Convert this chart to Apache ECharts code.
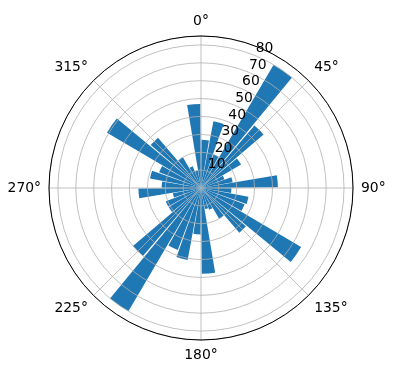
<!DOCTYPE html>
<html><head><meta charset="utf-8">
<script src="https://cdn.jsdelivr.net/npm/echarts@6/dist/echarts.min.js"></script>
<style>html,body{margin:0;padding:0;background:#fff}#c{width:396px;height:380px}</style>
</head><body><div id="c"></div>
<script>
// bin centres (degrees, clockwise from north)
const binCenters = [5,15,25,35,45,55,65,75,85,95,105,115,125,135,145,155,165,175,
                    185,195,205,215,225,235,245,255,265,275,285,295,305,315,325,335,345,355];
// bar heights
const counts = [27,38,20,80,46,26,14,18,43,17,27,26,65,33,20,13,12,48,
                26,41,37,80,50,21,21,16,35,22,29,25,61,37,20,13,10,47];
const angleTicks = [0,45,90,135,180,225,270,315];
const radiusTicks = [10,20,30,40,50,60,70,80];
const rMax = 85;

const FONT = 'DejaVu Sans';
const C = ['201', '188'];
const R = 152;
const chart = echarts.init(document.getElementById('c'), null, {renderer: 'canvas'});
chart.setOption({
  animation: false,
  polar: [
    {center: C, radius: R},
    {center: C, radius: R},
    {center: C, radius: R}
  ],
  angleAxis: [
    { polarIndex: 0, type: 'value', min: 0, max: 360, interval: 45, startAngle: 90, clockwise: true, z: 5,
      axisLine: {show: true, lineStyle: {color: '#000', width: 1}},
      axisTick: {show: false},
      splitLine: {show: true, lineStyle: {color: '#b0b0b0', width: 0.8}},
      axisLabel: {show: true, margin: 8, align: 'center', verticalAlign: 'middle',
        color: '#000', fontFamily: FONT, fontSize: 13.9,
        formatter: v => angleTicks.indexOf(v) >= 0 ? v + '°' : ''}
    },
    { polarIndex: 1, type: 'category', data: binCenters, startAngle: 90, clockwise: true, boundaryGap: true,
      axisLine: {show: false}, axisTick: {show: false}, splitLine: {show: false}, axisLabel: {show: false}
    },
    { polarIndex: 2, type: 'value', min: 0, max: 360, startAngle: 67.5, clockwise: true, show: false,
      axisLine: {show: false}, axisTick: {show: false}, splitLine: {show: false}, axisLabel: {show: false}
    }
  ],
  radiusAxis: [
    { polarIndex: 0, type: 'value', min: 0, max: rMax, interval: 10, z: 5,
      axisLine: {show: false}, axisTick: {show: false}, axisLabel: {show: false},
      splitLine: {show: true, lineStyle: {color: '#b0b0b0', width: 0.8}}
    },
    { polarIndex: 1, type: 'value', min: 0, max: rMax, show: false,
      axisLine: {show: false}, axisTick: {show: false}, axisLabel: {show: false}, splitLine: {show: false}
    },
    { polarIndex: 2, type: 'value', min: 0, max: rMax, interval: 10, z: 6,
      axisLine: {show: false}, axisTick: {show: false}, splitLine: {show: false},
      axisLabel: {show: true, margin: 0, color: '#000', fontFamily: FONT, fontSize: 13.9,
        align: 'left', verticalAlign: 'bottom',
        formatter: v => radiusTicks.indexOf(v) >= 0 ? String(v) : ''}
    }
  ],
  series: [{
    type: 'bar', coordinateSystem: 'polar', polarIndex: 1, z: 1,
    data: counts, barCategoryGap: '10%',
    itemStyle: {color: '#1f77b4'}
  }]
});
</script></body></html>
